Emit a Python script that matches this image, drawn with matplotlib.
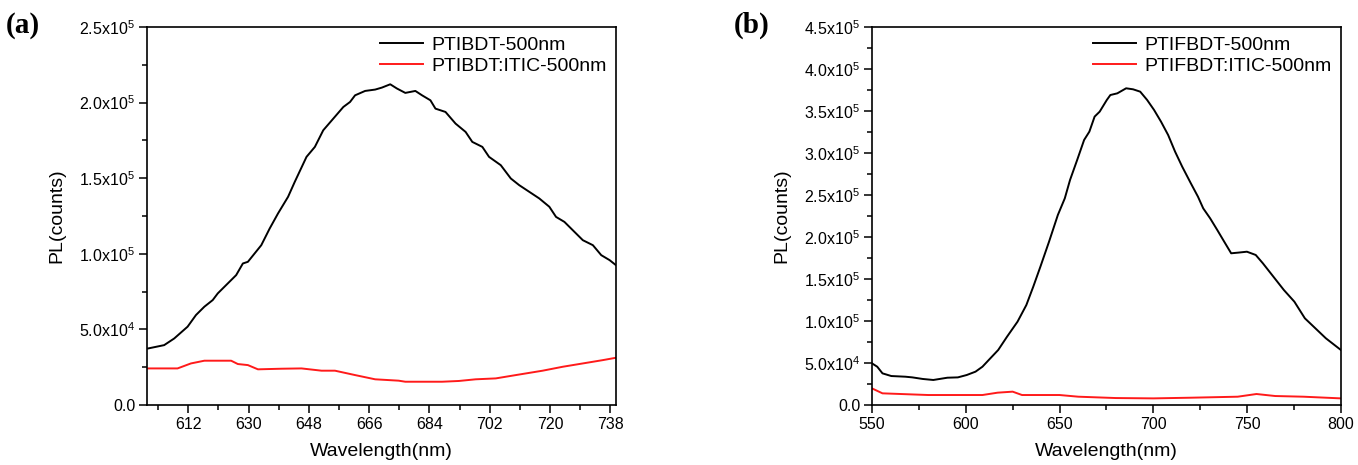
import matplotlib
matplotlib.use('Agg')
import matplotlib.pyplot as plt
from matplotlib.ticker import MultipleLocator, FuncFormatter

plt.rcParams['font.family'] = ['Liberation Sans', 'DejaVu Sans']
plt.rcParams['mathtext.default'] = 'regular'

# Panel (a): PTIBDT
wl_a = [600, 604.8, 607.8, 611.8, 614.3, 616.8, 619.3, 620.8, 623.8, 626.3, 628.3, 629.8,
        631.8, 633.8, 636.3, 638.8, 641.8, 643.8, 647.3, 649.8, 652.3, 655.3, 658.3, 660.3,
        661.8, 664.8, 667.8, 669.8, 672.3, 674.3, 676.8, 679.8, 681.8, 684.3, 685.8, 688.8,
        691.8, 694.8, 696.8, 699.8, 701.8, 705.3, 708.3, 710.8, 713.8, 716.8, 719.8, 721.8,
        724.3, 726.8, 729.8, 732.8, 735.3, 737.8, 740.3]
pl_a_neat = [0.374, 0.396, 0.44, 0.518, 0.595, 0.65, 0.694, 0.738, 0.804, 0.859, 0.936, 0.947,
             1.002, 1.057, 1.167, 1.267, 1.377, 1.476, 1.641, 1.707, 1.817, 1.894, 1.971, 2.004,
             2.048, 2.077, 2.086, 2.099, 2.121, 2.093, 2.064, 2.077, 2.048, 2.015, 1.96, 1.938,
             1.861, 1.806, 1.74, 1.707, 1.641, 1.586, 1.498, 1.454, 1.41, 1.366, 1.311, 1.244,
             1.211, 1.156, 1.09, 1.057, 0.991, 0.958, 0.914]
wl_a_blend = [600, 608.8, 612.8, 616.8, 624.8, 626.8, 629.8, 632.8, 639.8, 645.8, 651.8, 655.8,
              661.8, 667.8, 674.8, 676.8, 687.8, 692.8, 697.8, 703.8, 709.8, 717.8, 723.8,
              729.8, 735.8, 740.3]
pl_a_blend = [0.242, 0.242, 0.275, 0.293, 0.293, 0.271, 0.264, 0.236, 0.24, 0.242, 0.227, 0.227,
              0.198, 0.17, 0.161, 0.154, 0.154, 0.159, 0.17, 0.176, 0.198, 0.227, 0.253,
              0.275, 0.297, 0.315]

# Panel (b): PTIFBDT
wl_b = [550, 552.8, 555.6, 560.3, 567.8, 571.5, 577.1, 582.7, 590.2, 595.8, 600.5, 605.2,
        608.9, 612.6, 617.3, 622, 627.6, 632.3, 636, 639.8, 644.4, 649.1, 652.8, 655.6,
        659.4, 663.1, 665.9, 668.7, 671.4, 675.2, 677.1, 680.8, 685.5, 689.2, 693, 696.7,
        700.4, 704.1, 707.9, 711.6, 715.4, 720, 723.8, 726.6, 730.3, 734.1, 737.8, 741.5,
        745.3, 749.9, 754.6, 758.4, 764, 769.6, 775.2, 780.8, 786.4, 792, 800]
pl_b_neat = [0.496, 0.456, 0.377, 0.345, 0.337, 0.329, 0.31, 0.298, 0.325, 0.329, 0.357, 0.397,
             0.456, 0.544, 0.655, 0.813, 0.992, 1.19, 1.409, 1.647, 1.944, 2.262, 2.46, 2.679,
             2.917, 3.155, 3.254, 3.433, 3.492, 3.631, 3.69, 3.71, 3.77, 3.758, 3.73, 3.631,
             3.512, 3.373, 3.214, 3.016, 2.837, 2.639, 2.48, 2.341, 2.222, 2.083, 1.944, 1.806,
             1.814, 1.825, 1.786, 1.687, 1.528, 1.369, 1.23, 1.032, 0.913, 0.794, 0.655]
wl_b_blend = [550, 555.6, 580, 600, 608.9, 617, 625, 630, 650, 660, 680, 700, 720, 745, 755,
              765, 780, 800]
pl_b_blend = [0.198, 0.139, 0.119, 0.119, 0.119, 0.147, 0.159, 0.119, 0.119, 0.099, 0.083,
              0.079, 0.087, 0.099, 0.131, 0.107, 0.099, 0.079]


def sciFmt(v, pos):
    if abs(v) < 1:
        return '0.0'
    exp = len(str(int(round(v)))) - 1
    mant = v / 10 ** exp
    return r'$%.1fx10^{%d}$' % (mant, exp)


def styleAxes(ax, xlim, xmaj, xmin, ylim):
    ax.set_xlim(xlim)
    ax.set_ylim(ylim)
    ax.xaxis.set_major_locator(MultipleLocator(xmaj))
    ax.xaxis.set_minor_locator(MultipleLocator(xmin))
    ax.yaxis.set_major_locator(MultipleLocator(50000))
    ax.yaxis.set_minor_locator(MultipleLocator(25000))
    ax.yaxis.set_major_formatter(FuncFormatter(sciFmt))
    ax.tick_params(which='major', direction='out', length=6, width=1.1, labelsize=11.5,
                   pad=2.5, top=False, right=False)
    ax.tick_params(which='minor', direction='out', length=3.5, width=1.1, top=False, right=False)
    for s in ax.spines.values():
        s.set_linewidth(1.2)
    ax.set_xlabel('Wavelength(nm)', fontsize=14, labelpad=8)
    ax.set_ylabel('PL(counts)', fontsize=14, labelpad=10)
    ax.legend(loc='upper right', frameon=False, fontsize=14, handlelength=2.2,
              borderaxespad=0.1, labelspacing=0.15, handletextpad=0.4)


fig = plt.figure(figsize=(13.58, 4.65), dpi=100)

ax1 = fig.add_axes([0.1083, 0.129, 0.3453, 0.813])
ax1.plot(wl_a, [v * 1e5 for v in pl_a_neat], color='black', lw=1.4, label='PTIBDT-500nm')
ax1.plot(wl_a_blend, [v * 1e5 for v in pl_a_blend], color='#ff1a1a', lw=1.4,
         label='PTIBDT:ITIC-500nm')
styleAxes(ax1, (599.7, 739.7), 18, 9, (0, 250000))
ax1.set_xticks([612, 630, 648, 666, 684, 702, 720, 738])

ax2 = fig.add_axes([0.6421, 0.129, 0.3453, 0.813])
ax2.plot(wl_b, [v * 1e5 for v in pl_b_neat], color='black', lw=1.4, label='PTIFBDT-500nm')
ax2.plot(wl_b_blend, [v * 1e5 for v in pl_b_blend], color='#ff1a1a', lw=1.4,
         label='PTIFBDT:ITIC-500nm')
styleAxes(ax2, (550, 800), 50, 25, (0, 450000))

fig.text(0.004, 0.946, '(a)', fontsize=21, fontweight='bold', family='Liberation Serif',
         va='center')
fig.text(0.540, 0.946, '(b)', fontsize=21, fontweight='bold', family='Liberation Serif',
         va='center')

fig.savefig('out.png', dpi=100)
